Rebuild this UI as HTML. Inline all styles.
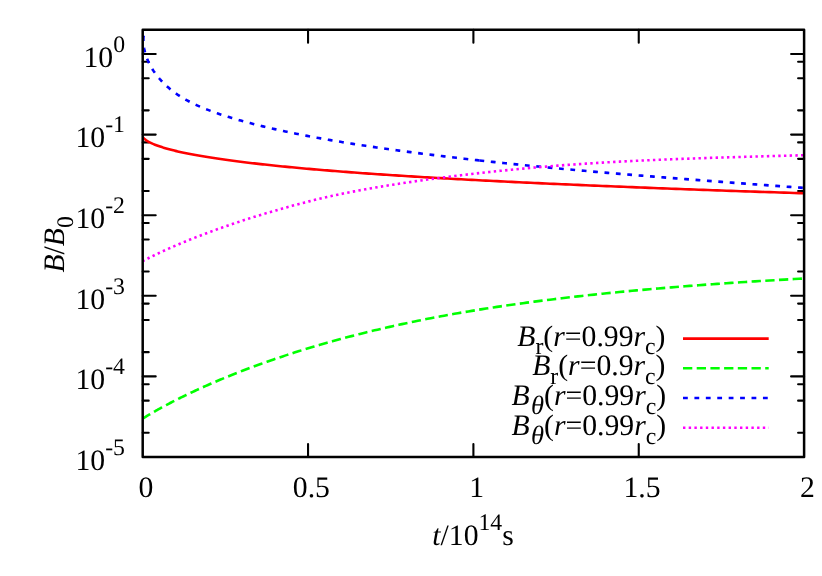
<!DOCTYPE html>
<html><head><meta charset="utf-8"><title>plot</title>
<style>
html,body{margin:0;padding:0;background:#fff;}
svg{display:block;will-change:transform;}
text{font-family:"Liberation Serif",serif;fill:#000;text-rendering:geometricPrecision;}
.i{font-style:italic;}
</style></head><body>
<svg width="822" height="576" viewBox="0 0 822 576">
<rect width="822" height="576" fill="#fff"/>
<path d="M142.7,54.00h13.0 M804.1,54.00h-13.0 M142.7,61.81h6.0 M804.1,61.81h-6.0 M142.7,78.26h6.0 M804.1,78.26h-6.0 M142.7,110.34h6.0 M804.1,110.34h-6.0 M142.7,134.60h13.0 M804.1,134.60h-13.0 M142.7,142.41h6.0 M804.1,142.41h-6.0 M142.7,158.86h6.0 M804.1,158.86h-6.0 M142.7,190.94h6.0 M804.1,190.94h-6.0 M142.7,215.20h13.0 M804.1,215.20h-13.0 M142.7,223.01h6.0 M804.1,223.01h-6.0 M142.7,239.46h6.0 M804.1,239.46h-6.0 M142.7,271.54h6.0 M804.1,271.54h-6.0 M142.7,295.80h13.0 M804.1,295.80h-13.0 M142.7,303.61h6.0 M804.1,303.61h-6.0 M142.7,320.06h6.0 M804.1,320.06h-6.0 M142.7,352.14h6.0 M804.1,352.14h-6.0 M142.7,376.40h13.0 M804.1,376.40h-13.0 M142.7,384.21h6.0 M804.1,384.21h-6.0 M142.7,400.66h6.0 M804.1,400.66h-6.0 M142.7,432.74h6.0 M804.1,432.74h-6.0 M308.05,457.0v-13.0 M308.05,29.7v13.0 M473.40,457.0v-13.0 M473.40,29.7v13.0 M638.75,457.0v-13.0 M638.75,29.7v13.0" fill="none" stroke="#000" stroke-width="2.1" stroke-linecap="round"/>
<path d="M143.30,137.32 L143.42,137.53 L143.55,137.75 L143.70,137.98 L143.88,138.20 L144.07,138.43 L144.28,138.66 L144.51,138.89 L144.76,139.12 L145.02,139.36 L145.31,139.59 L145.61,139.83 L145.94,140.08 L146.28,140.32 L146.64,140.57 L147.02,140.81 L147.42,141.06 L147.84,141.31 L148.27,141.57 L148.73,141.82 L149.20,142.07 L149.70,142.33 L150.21,142.59 L150.74,142.85 L151.29,143.11 L151.86,143.37 L152.45,143.63 L153.05,143.90 L153.68,144.16 L154.32,144.43 L154.99,144.69 L155.67,144.96 L156.37,145.23 L157.09,145.49 L157.83,145.76 L158.59,146.03 L159.36,146.30 L160.16,146.57 L160.97,146.84 L161.81,147.11 L162.66,147.38 L163.53,147.65 L164.42,147.92 L165.33,148.19 L166.26,148.46 L167.20,148.73 L168.17,149.00 L169.15,149.27 L170.15,149.54 L171.18,149.81 L172.22,150.08 L173.28,150.35 L174.36,150.61 L175.45,150.88 L176.57,151.14 L177.70,151.41 L178.86,151.67 L180.03,151.94 L181.22,152.20 L182.43,152.46 L183.66,152.72 L184.91,152.99 L186.18,153.25 L187.47,153.51 L188.77,153.76 L190.09,154.02 L191.44,154.28 L192.80,154.54 L194.18,154.80 L195.58,155.05 L197.00,155.31 L198.43,155.56 L199.89,155.82 L201.37,156.07 L202.86,156.32 L204.37,156.57 L205.90,156.83 L207.45,157.08 L209.02,157.33 L210.61,157.58 L212.22,157.83 L213.85,158.08 L215.49,158.32 L217.15,158.57 L218.84,158.82 L220.54,159.07 L222.26,159.31 L224.00,159.56 L225.76,159.80 L227.53,160.05 L229.33,160.29 L231.14,160.53 L232.98,160.77 L234.83,161.02 L236.70,161.26 L238.59,161.50 L240.50,161.74 L242.43,161.98 L244.38,162.22 L246.34,162.46 L248.33,162.69 L250.33,162.93 L252.35,163.17 L254.39,163.40 L256.45,163.64 L258.53,163.87 L260.63,164.11 L262.75,164.34 L264.88,164.58 L267.04,164.81 L269.21,165.04 L271.40,165.27 L273.61,165.50 L275.84,165.73 L278.09,165.96 L280.36,166.19 L282.65,166.42 L284.95,166.65 L287.28,166.88 L289.62,167.10 L291.98,167.33 L294.36,167.55 L296.76,167.78 L299.18,168.00 L301.62,168.23 L304.08,168.45 L306.55,168.67 L309.05,168.89 L311.56,169.11 L314.09,169.33 L316.64,169.55 L319.21,169.77 L321.80,169.99 L324.41,170.21 L327.04,170.42 L329.68,170.64 L332.35,170.85 L335.03,171.07 L337.73,171.28 L340.45,171.50 L343.19,171.71 L345.95,171.92 L348.73,172.13 L351.52,172.34 L354.34,172.55 L357.17,172.76 L360.03,172.97 L362.90,173.18 L365.79,173.39 L368.70,173.59 L371.63,173.80 L374.57,174.00 L377.54,174.21 L380.53,174.41 L383.53,174.62 L386.55,174.82 L389.59,175.02 L392.66,175.22 L395.73,175.42 L398.83,175.62 L401.95,175.82 L405.09,176.02 L408.24,176.22 L411.42,176.42 L414.61,176.61 L417.82,176.81 L421.05,177.00 L424.30,177.20 L427.57,177.39 L430.86,177.59 L434.16,177.78 L437.49,177.97 L440.83,178.17 L444.19,178.36 L447.57,178.55 L450.97,178.74 L454.39,178.93 L457.83,179.12 L461.29,179.31 L464.77,179.50 L468.26,179.68 L471.77,179.87 L475.31,180.06 L478.86,180.24 L482.43,180.43 L486.02,180.61 L489.63,180.80 L493.25,180.98 L496.90,181.17 L500.56,181.35 L504.25,181.53 L507.95,181.72 L511.67,181.90 L515.41,182.08 L519.17,182.26 L522.95,182.44 L526.74,182.62 L530.56,182.80 L534.39,182.98 L538.25,183.16 L542.12,183.34 L546.01,183.52 L549.92,183.69 L553.85,183.87 L557.80,184.05 L561.76,184.22 L565.75,184.40 L569.76,184.57 L573.78,184.75 L577.82,184.92 L581.88,185.10 L585.96,185.27 L590.06,185.45 L594.18,185.62 L598.31,185.79 L602.47,185.97 L606.64,186.14 L610.84,186.31 L615.05,186.48 L619.28,186.65 L623.53,186.82 L627.80,187.00 L632.09,187.17 L636.39,187.34 L640.72,187.51 L645.06,187.67 L649.43,187.84 L653.81,188.01 L658.21,188.18 L662.63,188.35 L667.07,188.52 L671.53,188.69 L676.00,188.85 L680.50,189.02 L685.01,189.19 L689.54,189.36 L694.10,189.52 L698.67,189.69 L703.26,189.85 L707.87,190.02 L712.49,190.19 L717.14,190.35 L721.80,190.52 L726.49,190.68 L731.19,190.85 L735.91,191.01 L740.65,191.18 L745.41,191.34 L750.19,191.50 L754.99,191.67 L759.80,191.83 L764.64,192.00 L769.49,192.16 L774.37,192.32 L779.26,192.49 L784.17,192.65 L789.10,192.81 L794.05,192.98 L799.01,193.14 L804.00,193.30" fill="none" stroke="#f00" stroke-width="2.6" stroke-linejoin="round"/>
<path d="M143.30,418.26 L143.42,418.19 L143.55,418.11 L143.70,418.01 L143.88,417.90 L144.07,417.78 L144.28,417.65 L144.51,417.50 L144.76,417.35 L145.02,417.18 L145.31,417.01 L145.61,416.82 L145.94,416.62 L146.28,416.41 L146.64,416.19 L147.02,415.95 L147.42,415.71 L147.84,415.46 L148.27,415.19 L148.73,414.92 L149.20,414.64 L149.70,414.34 L150.21,414.04 L150.74,413.73 L151.29,413.40 L151.86,413.07 L152.45,412.73 L153.05,412.38 L153.68,412.02 L154.32,411.65 L154.99,411.27 L155.67,410.88 L156.37,410.48 L157.09,410.08 L157.83,409.67 L158.59,409.24 L159.36,408.81 L160.16,408.37 L160.97,407.92 L161.81,407.47 L162.66,407.00 L163.53,406.53 L164.42,406.05 L165.33,405.57 L166.26,405.07 L167.20,404.57 L168.17,404.06 L169.15,403.54 L170.15,403.02 L171.18,402.49 L172.22,401.95 L173.28,401.41 L174.36,400.85 L175.45,400.30 L176.57,399.73 L177.70,399.16 L178.86,398.58 L180.03,398.00 L181.22,397.41 L182.43,396.81 L183.66,396.21 L184.91,395.61 L186.18,394.99 L187.47,394.37 L188.77,393.75 L190.09,393.12 L191.44,392.49 L192.80,391.85 L194.18,391.20 L195.58,390.55 L197.00,389.90 L198.43,389.24 L199.89,388.57 L201.37,387.91 L202.86,387.23 L204.37,386.56 L205.90,385.87 L207.45,385.19 L209.02,384.50 L210.61,383.81 L212.22,383.11 L213.85,382.41 L215.49,381.70 L217.15,381.00 L218.84,380.28 L220.54,379.57 L222.26,378.85 L224.00,378.13 L225.76,377.41 L227.53,376.68 L229.33,375.95 L231.14,375.22 L232.98,374.49 L234.83,373.75 L236.70,373.01 L238.59,372.27 L240.50,371.53 L242.43,370.79 L244.38,370.04 L246.34,369.29 L248.33,368.54 L250.33,367.79 L252.35,367.04 L254.39,366.28 L256.45,365.53 L258.53,364.77 L260.63,364.01 L262.75,363.25 L264.88,362.49 L267.04,361.73 L269.21,360.97 L271.40,360.21 L273.61,359.45 L275.84,358.69 L278.09,357.92 L280.36,357.16 L282.65,356.40 L284.95,355.64 L287.28,354.88 L289.62,354.11 L291.98,353.35 L294.36,352.59 L296.76,351.83 L299.18,351.07 L301.62,350.31 L304.08,349.55 L306.55,348.79 L309.05,348.04 L311.56,347.28 L314.09,346.53 L316.64,345.77 L319.21,345.02 L321.80,344.27 L324.41,343.52 L327.04,342.77 L329.68,342.02 L332.35,341.28 L335.03,340.54 L337.73,339.80 L340.45,339.06 L343.19,338.32 L345.95,337.58 L348.73,336.85 L351.52,336.12 L354.34,335.39 L357.17,334.66 L360.03,333.94 L362.90,333.22 L365.79,332.50 L368.70,331.79 L371.63,331.07 L374.57,330.36 L377.54,329.66 L380.53,328.95 L383.53,328.25 L386.55,327.56 L389.59,326.86 L392.66,326.17 L395.73,325.49 L398.83,324.80 L401.95,324.12 L405.09,323.45 L408.24,322.78 L411.42,322.11 L414.61,321.44 L417.82,320.78 L421.05,320.13 L424.30,319.48 L427.57,318.83 L430.86,318.19 L434.16,317.55 L437.49,316.92 L440.83,316.29 L444.19,315.67 L447.57,315.05 L450.97,314.43 L454.39,313.82 L457.83,313.22 L461.29,312.62 L464.77,312.03 L468.26,311.44 L471.77,310.85 L475.31,310.27 L478.86,309.70 L482.43,309.13 L486.02,308.57 L489.63,308.00 L493.25,307.45 L496.90,306.90 L500.56,306.35 L504.25,305.81 L507.95,305.27 L511.67,304.74 L515.41,304.21 L519.17,303.69 L522.95,303.17 L526.74,302.66 L530.56,302.15 L534.39,301.64 L538.25,301.14 L542.12,300.64 L546.01,300.15 L549.92,299.67 L553.85,299.18 L557.80,298.70 L561.76,298.23 L565.75,297.76 L569.76,297.29 L573.78,296.83 L577.82,296.38 L581.88,295.92 L585.96,295.47 L590.06,295.03 L594.18,294.59 L598.31,294.15 L602.47,293.72 L606.64,293.29 L610.84,292.87 L615.05,292.45 L619.28,292.03 L623.53,291.62 L627.80,291.22 L632.09,290.81 L636.39,290.41 L640.72,290.02 L645.06,289.63 L649.43,289.24 L653.81,288.85 L658.21,288.47 L662.63,288.10 L667.07,287.73 L671.53,287.36 L676.00,286.99 L680.50,286.63 L685.01,286.28 L689.54,285.92 L694.10,285.57 L698.67,285.23 L703.26,284.89 L707.87,284.55 L712.49,284.21 L717.14,283.88 L721.80,283.55 L726.49,283.23 L731.19,282.91 L735.91,282.59 L740.65,282.28 L745.41,281.97 L750.19,281.66 L754.99,281.36 L759.80,281.06 L764.64,280.76 L769.49,280.47 L774.37,280.18 L779.26,279.89 L784.17,279.61 L789.10,279.33 L794.05,279.06 L799.01,278.78 L804.00,278.51" fill="none" stroke="#0f0" stroke-width="2.6" stroke-dasharray="9.3 4.4" stroke-dashoffset="1.2" stroke-linejoin="round"/>
<path d="M143.38,36.56 L143.41,36.52 L143.43,36.48 L143.45,36.46 L143.46,36.46 L143.48,36.46 L143.49,36.48 L143.49,36.51 L143.50,36.55 L143.50,36.60 L143.50,36.67 L143.50,36.75 L143.50,36.83 L143.50,36.93 L143.49,37.04 L143.49,37.17 L143.48,37.30 L143.47,37.44 L143.47,37.60 L143.46,37.77 L143.45,37.94 L143.44,38.13 L143.43,38.33 L143.43,38.54 L143.42,38.76 L143.41,38.98 L143.41,39.22 L143.40,39.47 L143.40,39.73 L143.40,40.00 L143.40,40.28 L143.40,40.56 L143.40,40.86 L143.41,41.17 L143.42,41.48 L143.43,41.81 L143.44,42.14 L143.46,42.49 L143.48,42.84 L143.50,43.20 L143.53,43.57 L143.56,43.94 L143.59,44.33 L143.63,44.72 L143.67,45.12 L143.72,45.53 L143.77,45.95 L143.83,46.38 L143.89,46.81 L143.96,47.25 L144.03,47.70 L144.10,48.16 L144.19,48.62 L144.28,49.09 L144.37,49.57 L144.47,50.06 L144.58,50.55 L144.69,51.05 L144.81,51.55 L144.94,52.06 L145.08,52.58 L145.22,53.11 L145.37,53.64 L145.52,54.17 L145.69,54.72 L145.86,55.27 L146.04,55.82 L146.23,56.38 L146.43,56.95 L146.64,57.52 L146.85,58.10 L147.08,58.68 L147.31,59.26 L147.56,59.86 L147.81,60.46 L148.07,61.06 L148.35,61.66 L148.63,62.28 L148.92,62.89 L149.23,63.51 L149.54,64.14 L149.87,64.77 L150.21,65.40 L150.56,66.04 L150.92,66.68 L151.29,67.33 L151.67,67.98 L152.07,68.63 L152.48,69.28 L152.90,69.94 L153.33,70.61 L153.78,71.27 L154.24,71.94 L154.71,72.61 L155.19,73.29 L155.69,73.97 L156.20,74.64 L156.73,75.32 L157.26,76.01 L157.81,76.69 L158.38,77.38 L158.95,78.06 L159.54,78.75 L160.15,79.43 L160.76,80.12 L161.39,80.81 L162.03,81.49 L162.69,82.18 L163.36,82.86 L164.04,83.54 L164.74,84.23 L165.45,84.91 L166.17,85.58 L166.91,86.26 L167.66,86.93 L168.42,87.60 L169.20,88.27 L169.99,88.94 L170.80,89.60 L171.61,90.25 L172.44,90.91 L173.29,91.56 L174.15,92.20 L175.02,92.84 L175.91,93.48 L176.81,94.11 L177.72,94.73 L178.65,95.35 L179.59,95.96 L180.55,96.57 L181.52,97.17 L182.50,97.77 L183.49,98.36 L184.50,98.95 L185.52,99.53 L186.56,100.10 L187.61,100.67 L188.67,101.24 L189.74,101.80 L190.83,102.35 L191.93,102.90 L193.04,103.45 L194.17,103.99 L195.31,104.52 L196.46,105.06 L197.62,105.58 L198.79,106.11 L199.98,106.63 L201.18,107.14 L202.39,107.65 L203.61,108.16 L204.85,108.66 L206.09,109.16 L207.35,109.65 L208.62,110.14 L209.90,110.63 L211.19,111.11 L212.50,111.60 L213.81,112.07 L215.14,112.55 L216.48,113.02 L217.82,113.48 L219.18,113.95 L220.55,114.41 L221.93,114.87 L223.32,115.32 L224.73,115.77 L226.14,116.22 L227.56,116.67 L228.99,117.11 L230.44,117.56 L231.89,118.00 L233.35,118.43 L234.83,118.87 L236.31,119.30 L237.80,119.73 L239.31,120.16 L240.82,120.59 L242.34,121.01 L243.87,121.43 L245.41,121.86 L246.96,122.28 L248.52,122.69 L250.09,123.11 L251.67,123.52 L253.26,123.93 L254.86,124.34 L256.47,124.75 L258.08,125.16 L259.71,125.56 L261.34,125.97 L262.99,126.37 L264.64,126.77 L266.31,127.17 L267.98,127.56 L269.67,127.96 L271.36,128.35 L273.06,128.74 L274.77,129.13 L276.49,129.52 L278.22,129.91 L279.96,130.29 L281.71,130.68 L283.47,131.06 L285.24,131.44 L287.02,131.82 L288.80,132.20 L290.60,132.57 L292.40,132.95 L294.22,133.32 L296.04,133.69 L297.88,134.06 L299.72,134.43 L301.57,134.79 L303.43,135.16 L305.30,135.52 L307.18,135.89 L309.07,136.25 L310.97,136.61 L312.88,136.96 L314.80,137.32 L316.72,137.68 L318.66,138.03 L320.60,138.38 L322.56,138.74 L324.52,139.09 L326.50,139.43 L328.48,139.78 L330.47,140.13 L332.47,140.47 L334.48,140.82 L336.50,141.16 L338.53,141.50 L340.56,141.84 L342.61,142.18 L344.67,142.52 L346.73,142.85 L348.80,143.19 L350.89,143.52 L352.98,143.86 L355.08,144.19 L357.19,144.52 L359.31,144.85 L361.44,145.18 L363.58,145.50 L365.73,145.83 L367.88,146.16 L370.05,146.48 L372.22,146.80 L374.41,147.13 L376.60,147.45 L378.80,147.77 L381.01,148.09 L383.23,148.40 L385.46,148.72 L387.70,149.04 L389.95,149.35 L392.20,149.67 L394.47,149.98 L396.74,150.29 L399.02,150.60 L401.32,150.91 L403.62,151.22 L405.93,151.53 L408.25,151.84 L410.58,152.15 L412.91,152.45 L415.26,152.76 L417.62,153.06 L419.98,153.37 L422.36,153.67 L424.74,153.97 L427.13,154.27 L429.53,154.58 L431.94,154.88 L434.36,155.17 L436.79,155.47 L439.22,155.77 L441.67,156.07 L444.13,156.36 L446.59,156.66 L449.06,156.95 L451.55,157.25 L454.04,157.54 L456.54,157.83 L459.05,158.12 L461.56,158.42 L464.09,158.71 L466.63,159.00 L469.17,159.29 L471.73,159.57 L474.29,159.86 L476.86,160.15 L479.45,160.44" fill="none" stroke="#00f" stroke-width="2.6" stroke-dasharray="4.8 6.62" stroke-linejoin="round"/>
<path d="M479.45,160.44 L482.04,160.72 L484.63,161.01 L487.24,161.29 L489.86,161.58 L492.49,161.86 L495.12,162.14 L497.77,162.43 L500.42,162.71 L503.08,162.99 L505.76,163.27 L508.44,163.55 L511.13,163.83 L513.82,164.10 L516.53,164.38 L519.25,164.66 L521.97,164.93 L524.71,165.21 L527.45,165.48 L530.20,165.76 L532.97,166.03 L535.74,166.30 L538.52,166.57 L541.31,166.84 L544.10,167.11 L546.91,167.38 L549.72,167.65 L552.55,167.91 L555.38,168.18 L558.23,168.45 L561.08,168.71 L563.94,168.98 L566.81,169.24 L569.69,169.50 L572.57,169.76 L575.47,170.03 L578.37,170.29 L581.29,170.55 L584.21,170.81 L587.15,171.07 L590.09,171.33 L593.04,171.58 L596.00,171.84 L598.96,172.10 L601.94,172.36 L604.93,172.61 L607.92,172.87 L610.93,173.12 L613.94,173.38 L616.96,173.63 L619.99,173.89 L623.03,174.14 L626.08,174.40 L629.14,174.65 L632.21,174.90 L635.28,175.15 L638.37,175.41 L641.46,175.66 L644.57,175.91 L647.68,176.16 L650.80,176.41 L653.93,176.66 L657.07,176.91 L660.21,177.16 L663.37,177.41 L666.54,177.66 L669.71,177.91 L672.89,178.16 L676.09,178.41 L679.29,178.66 L682.50,178.91 L685.72,179.16 L688.94,179.41 L692.18,179.66 L695.43,179.91 L698.68,180.15 L701.95,180.40 L705.22,180.65 L708.50,180.90 L711.79,181.15 L715.09,181.40 L718.40,181.65 L721.72,181.90 L725.04,182.14 L728.38,182.39 L731.72,182.64 L735.08,182.89 L738.44,183.14 L741.81,183.39 L745.19,183.64 L748.58,183.89 L751.98,184.14 L755.38,184.39 L758.80,184.64 L762.23,184.89 L765.66,185.14 L769.10,185.40 L772.55,185.65 L776.01,185.90 L779.48,186.15 L782.96,186.40 L786.45,186.66 L789.94,186.91 L793.45,187.16 L796.96,187.42 L800.49,187.67 L804.02,187.93" fill="none" stroke="#00f" stroke-width="2.6" stroke-dasharray="4.8 6.62" stroke-linejoin="round"/>
<path d="M143.30,260.86 L143.42,260.80 L143.55,260.73 L143.70,260.64 L143.88,260.55 L144.07,260.45 L144.28,260.34 L144.51,260.21 L144.76,260.08 L145.02,259.94 L145.31,259.79 L145.61,259.63 L145.94,259.46 L146.28,259.28 L146.64,259.09 L147.02,258.90 L147.42,258.69 L147.84,258.48 L148.27,258.25 L148.73,258.02 L149.20,257.78 L149.70,257.53 L150.21,257.28 L150.74,257.01 L151.29,256.74 L151.86,256.46 L152.45,256.17 L153.05,255.87 L153.68,255.56 L154.32,255.25 L154.99,254.93 L155.67,254.60 L156.37,254.27 L157.09,253.92 L157.83,253.57 L158.59,253.22 L159.36,252.85 L160.16,252.48 L160.97,252.10 L161.81,251.72 L162.66,251.32 L163.53,250.93 L164.42,250.52 L165.33,250.11 L166.26,249.69 L167.20,249.27 L168.17,248.83 L169.15,248.40 L170.15,247.95 L171.18,247.51 L172.22,247.05 L173.28,246.59 L174.36,246.12 L175.45,245.65 L176.57,245.17 L177.70,244.69 L178.86,244.20 L180.03,243.71 L181.22,243.21 L182.43,242.71 L183.66,242.20 L184.91,241.68 L186.18,241.17 L187.47,240.64 L188.77,240.11 L190.09,239.58 L191.44,239.05 L192.80,238.50 L194.18,237.96 L195.58,237.41 L197.00,236.85 L198.43,236.30 L199.89,235.74 L201.37,235.17 L202.86,234.60 L204.37,234.03 L205.90,233.45 L207.45,232.87 L209.02,232.29 L210.61,231.70 L212.22,231.11 L213.85,230.52 L215.49,229.92 L217.15,229.32 L218.84,228.72 L220.54,228.11 L222.26,227.51 L224.00,226.90 L225.76,226.28 L227.53,225.67 L229.33,225.05 L231.14,224.43 L232.98,223.81 L234.83,223.18 L236.70,222.56 L238.59,221.93 L240.50,221.30 L242.43,220.67 L244.38,220.03 L246.34,219.40 L248.33,218.76 L250.33,218.13 L252.35,217.49 L254.39,216.85 L256.45,216.21 L258.53,215.56 L260.63,214.92 L262.75,214.28 L264.88,213.63 L267.04,212.99 L269.21,212.34 L271.40,211.69 L273.61,211.05 L275.84,210.40 L278.09,209.75 L280.36,209.10 L282.65,208.46 L284.95,207.81 L287.28,207.16 L289.62,206.51 L291.98,205.87 L294.36,205.22 L296.76,204.58 L299.18,203.93 L301.62,203.29 L304.08,202.65 L306.55,202.01 L309.05,201.37 L311.56,200.74 L314.09,200.11 L316.64,199.48 L319.21,198.86 L321.80,198.25 L324.41,197.64 L327.04,197.04 L329.68,196.44 L332.35,195.85 L335.03,195.27 L337.73,194.69 L340.45,194.12 L343.19,193.55 L345.95,192.99 L348.73,192.44 L351.52,191.89 L354.34,191.35 L357.17,190.81 L360.03,190.28 L362.90,189.75 L365.79,189.23 L368.70,188.71 L371.63,188.19 L374.57,187.68 L377.54,187.18 L380.53,186.68 L383.53,186.18 L386.55,185.69 L389.59,185.20 L392.66,184.71 L395.73,184.23 L398.83,183.75 L401.95,183.27 L405.09,182.80 L408.24,182.33 L411.42,181.86 L414.61,181.40 L417.82,180.94 L421.05,180.48 L424.30,180.02 L427.57,179.57 L430.86,179.11 L434.16,178.67 L437.49,178.22 L440.83,177.78 L444.19,177.34 L447.57,176.90 L450.97,176.47 L454.39,176.04 L457.83,175.62 L461.29,175.19 L464.77,174.78 L468.26,174.36 L471.77,173.95 L475.31,173.54 L478.86,173.14 L482.43,172.74" fill="none" stroke="#f0f" stroke-width="2.6" stroke-dasharray="2.4 3.3" stroke-dashoffset="1.0" stroke-linejoin="round"/>
<path d="M482.43,172.74 L486.02,172.34 L489.63,171.95 L493.25,171.56 L496.90,171.18 L500.56,170.80 L504.25,170.42 L507.95,170.05 L511.67,169.68 L515.41,169.32 L519.17,168.96 L522.95,168.61 L526.74,168.26 L530.56,167.92 L534.39,167.58 L538.25,167.25 L542.12,166.92 L546.01,166.59 L549.92,166.27 L553.85,165.96 L557.80,165.65 L561.76,165.35 L565.75,165.05 L569.76,164.75 L573.78,164.47 L577.82,164.18 L581.88,163.91 L585.96,163.64 L590.06,163.37 L594.18,163.11 L598.31,162.86 L602.47,162.61 L606.64,162.36 L610.84,162.13 L615.05,161.89 L619.28,161.67 L623.53,161.44 L627.80,161.22 L632.09,161.01 L636.39,160.80 L640.72,160.60 L645.06,160.40 L649.43,160.20 L653.81,160.01 L658.21,159.82 L662.63,159.63 L667.07,159.45 L671.53,159.27 L676.00,159.10 L680.50,158.93 L685.01,158.76 L689.54,158.60 L694.10,158.43 L698.67,158.28 L703.26,158.12 L707.87,157.97 L712.49,157.81 L717.14,157.66 L721.80,157.52 L726.49,157.37 L731.19,157.23 L735.91,157.09 L740.65,156.95 L745.41,156.81 L750.19,156.68 L754.99,156.54 L759.80,156.41 L764.64,156.27 L769.49,156.14 L774.37,156.01 L779.26,155.88 L784.17,155.75 L789.10,155.62 L794.05,155.49 L799.01,155.37 L804.00,155.24" fill="none" stroke="#f0f" stroke-width="2.6" stroke-dasharray="2.4 3.3" stroke-linejoin="round"/>
<path d="M683.0,338.6 L768.7,338.6" fill="none" stroke="#f00" stroke-width="2.6"/>
<path d="M683.0,368.3 L768.7,368.3" fill="none" stroke="#0f0" stroke-width="2.6" stroke-dasharray="9.3 4.4"/>
<path d="M683.0,398.0 L768.7,398.0" fill="none" stroke="#00f" stroke-width="2.6" stroke-dasharray="4.8 6.62"/>
<path d="M683.0,427.8 L768.7,427.8" fill="none" stroke="#f0f" stroke-width="2.6" stroke-dasharray="2.4 3.3"/>
<rect x="142.7" y="29.7" width="661.40" height="427.30" fill="none" stroke="#000" stroke-width="2.5" stroke-linejoin="round"/>
<text x="125" y="66.70" font-size="29.7" text-anchor="end">10<tspan font-size="23.76" dy="-14.9">0</tspan></text>
<text x="125" y="147.30" font-size="29.7" text-anchor="end">10<tspan font-size="23.76" dy="-14.9">-1</tspan></text>
<text x="125" y="227.90" font-size="29.7" text-anchor="end">10<tspan font-size="23.76" dy="-14.9">-2</tspan></text>
<text x="125" y="308.50" font-size="29.7" text-anchor="end">10<tspan font-size="23.76" dy="-14.9">-3</tspan></text>
<text x="125" y="389.10" font-size="29.7" text-anchor="end">10<tspan font-size="23.76" dy="-14.9">-4</tspan></text>
<text x="125" y="469.70" font-size="29.7" text-anchor="end">10<tspan font-size="23.76" dy="-14.9">-5</tspan></text>
<text x="146.00" y="497.4" font-size="29.7" text-anchor="middle">0</text>
<text x="311.35" y="497.4" font-size="29.7" text-anchor="middle">0.5</text>
<text x="476.70" y="497.4" font-size="29.7" text-anchor="middle">1</text>
<text x="642.05" y="497.4" font-size="29.7" text-anchor="middle">1.5</text>
<text x="807.40" y="497.4" font-size="29.7" text-anchor="middle">2</text>
<text x="432.3" y="544.5" font-size="29.7"><tspan class="i">t</tspan>/10<tspan font-size="23.76" dy="-14.9">14</tspan><tspan dy="14.9">s</tspan></text>
<text transform="translate(64,272.6) rotate(-90)" font-size="29.7"><tspan class="i">B</tspan>/<tspan class="i">B</tspan><tspan font-size="23.76" dy="8.9">0</tspan></text>
<text x="665.5" y="345.5" font-size="29.7" text-anchor="end"><tspan class="i">B</tspan><tspan font-size="23.76" dy="8.9">r</tspan><tspan dy="-8.9">(</tspan><tspan class="i">r</tspan>=0.99<tspan class="i">r</tspan><tspan font-size="23.76" dy="8.9">c</tspan><tspan dy="-8.9">)</tspan></text>
<text x="665.5" y="375.2" font-size="29.7" text-anchor="end"><tspan class="i">B</tspan><tspan font-size="23.76" dy="8.9">r</tspan><tspan dy="-8.9">(</tspan><tspan class="i">r</tspan>=0.9<tspan class="i">r</tspan><tspan font-size="23.76" dy="8.9">c</tspan><tspan dy="-8.9">)</tspan></text>
<text x="666.2" y="404.9" font-size="29.7" text-anchor="end"><tspan class="i">B</tspan><tspan class="i" font-size="26.5" dx="1.3" dy="8.9">θ</tspan><tspan dy="-8.9">(</tspan><tspan class="i">r</tspan>=0.99<tspan class="i">r</tspan><tspan font-size="23.76" dy="8.9">c</tspan><tspan dy="-8.9">)</tspan></text>
<text x="666.2" y="434.6" font-size="29.7" text-anchor="end"><tspan class="i">B</tspan><tspan class="i" font-size="26.5" dx="1.3" dy="8.9">θ</tspan><tspan dy="-8.9">(</tspan><tspan class="i">r</tspan>=0.99<tspan class="i">r</tspan><tspan font-size="23.76" dy="8.9">c</tspan><tspan dy="-8.9">)</tspan></text>
</svg></body></html>
